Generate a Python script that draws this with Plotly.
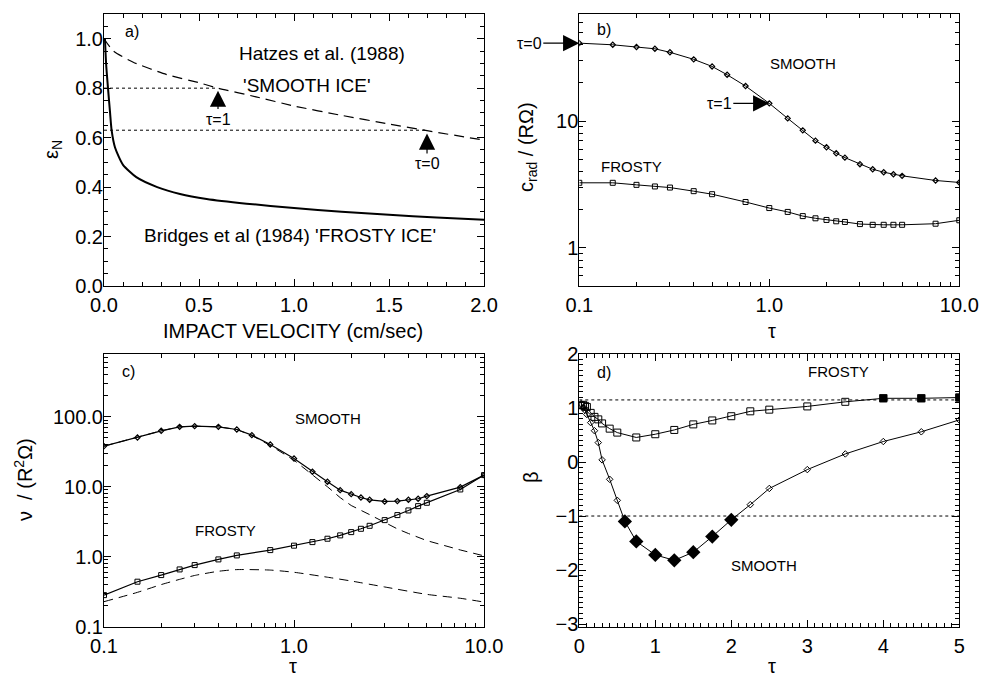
import numpy as np
import plotly.graph_objects as go

# ---------------- data ----------------
# panel a: coefficient of restitution vs impact velocity
a_frosty_v = [0.005, 0.011, 0.021, 0.032, 0.04, 0.058, 0.1, 0.17, 0.28, 0.4, 0.54, 0.75, 1.0, 1.25, 1.5, 1.75, 2.0]
a_frosty_e = [1.0, 0.9, 0.8, 0.70, 0.63, 0.56, 0.49, 0.44, 0.40, 0.372, 0.352, 0.333, 0.315, 0.30, 0.288, 0.277, 0.268]
a_smooth_v = [0.0, 0.05, 0.154, 0.33, 0.5, 0.6, 0.8, 1.0, 1.25, 1.5, 1.7, 2.0]
a_smooth_e = [1.0, 0.95, 0.905, 0.855, 0.822, 0.80, 0.765, 0.728, 0.69, 0.655, 0.628, 0.59]
a_dot_levels = [0.8, 0.63]
a_dot_ends = [0.6, 1.7]

# panels b, c: optical depth grid
tau_smooth = [0.1, 0.15, 0.2, 0.25, 0.3, 0.4, 0.5, 0.6, 0.75, 1.0, 1.25, 1.5, 1.75, 2.0, 2.25, 2.5, 3.0, 3.5, 4.0, 4.5, 5.0, 7.5, 10]
tau_frosty = [0.1, 0.15, 0.2, 0.25, 0.3, 0.4, 0.5, 0.75, 1.0, 1.25, 1.5, 1.75, 2.0, 2.25, 2.5, 3.0, 3.5, 4.0, 4.5, 5.0, 7.5, 10]

b_smooth = [41.2, 40.0, 38.4, 37.2, 34.9, 30.7, 27.0, 23.2, 18.9, 13.8, 10.5, 8.45, 7.01, 6.21, 5.57, 5.15, 4.57, 4.17, 3.95, 3.81, 3.70, 3.40, 3.28]
b_frosty = [3.26, 3.26, 3.14, 3.05, 2.99, 2.80, 2.65, 2.30, 2.06, 1.92, 1.78, 1.71, 1.66, 1.62, 1.60, 1.54, 1.52, 1.52, 1.52, 1.52, 1.55, 1.65]

c_smooth = [38.1, 50.7, 63.1, 71.9, 73.6, 71.9, 65.9, 54.7, 40.3, 25.4, 16.4, 11.8, 8.96, 7.85, 7.04, 6.52, 6.17, 6.24, 6.52, 6.74, 7.36, 9.89, 14.7]
c_frosty = [0.283, 0.44, 0.547, 0.659, 0.76, 0.916, 1.045, 1.245, 1.44, 1.62, 1.81, 2.02, 2.25, 2.51, 2.77, 3.34, 3.94, 4.59, 5.29, 5.91, 9.16, 14.7]
c_smooth_dash_tau = [0.1, 0.15, 0.2, 0.25, 0.3, 0.4, 0.5, 0.6, 0.75, 1.0, 1.25, 1.5, 1.75, 2.0, 2.5, 3.0, 3.5, 4.0, 5.0, 7.5, 10]
c_smooth_dash = [38.1, 50.7, 63.1, 71.9, 73.6, 71.9, 65.9, 54.0, 39.0, 24.0, 15.0, 10.0, 7.0, 5.4, 4.0, 3.1, 2.5, 2.15, 1.7, 1.25, 1.03]
c_frosty_dash_tau = [0.1, 0.15, 0.2, 0.25, 0.3, 0.4, 0.5, 0.75, 1.0, 1.5, 2.0, 3.0, 5.0, 7.5, 10]
c_frosty_dash = [0.228, 0.31, 0.40, 0.475, 0.54, 0.62, 0.655, 0.645, 0.60, 0.51, 0.45, 0.37, 0.29, 0.255, 0.225]

# panel d: beta vs tau
d_tau_smooth = [0.025, 0.05, 0.075, 0.1, 0.15, 0.2, 0.25, 0.3, 0.4, 0.5, 0.6, 0.75, 1.0, 1.25, 1.5, 1.75, 2.0, 2.25, 2.5, 3.0, 3.5, 4.0, 4.5, 5.0]
d_smooth = [1.08, 1.0, 0.96, 0.88, 0.73, 0.58, 0.36, 0.04, -0.32, -0.71, -1.10, -1.47, -1.72, -1.82, -1.67, -1.38, -1.07, -0.79, -0.49, -0.14, 0.15, 0.38, 0.56, 0.78]
d_tau_frosty = [0.025, 0.05, 0.075, 0.1, 0.15, 0.2, 0.25, 0.3, 0.4, 0.5, 0.75, 1.0, 1.25, 1.5, 1.75, 2.0, 2.25, 2.5, 3.0, 3.5, 4.0, 4.5, 5.0]
d_frosty = [1.05, 1.06, 1.04, 1.02, 0.91, 0.836, 0.79, 0.715, 0.618, 0.545, 0.455, 0.515, 0.594, 0.697, 0.77, 0.848, 0.939, 0.97, 1.03, 1.115, 1.18, 1.18, 1.194]
d_smooth_filled_tau = [0.6, 0.75, 1.0, 1.25, 1.5, 1.75, 2.0]
d_frosty_filled_tau = [4.0, 4.5, 5.0]
d_dot_levels = [1.15, -1.0]

# ---------------- figure ----------------
W, H = 983, 679
FONT = "Liberation Sans, Arial, Helvetica, sans-serif"
fig = go.Figure()
fig.update_layout(template="none")

def px2paper(x, y):
    return x / W, 1 - y / H

def line(color="black", width=1, dash="solid"):
    return dict(color=color, width=width, dash=dash)

# panel a
for lev, end in zip(a_dot_levels, a_dot_ends):
    fig.add_trace(go.Scatter(x=[0, end], y=[lev, lev], mode="lines", line=line(width=1, dash="dot"),
                             xaxis="x", yaxis="y", showlegend=False, hoverinfo="skip"))
fig.add_trace(go.Scatter(x=a_smooth_v, y=a_smooth_e, mode="lines", line=dict(color="black", width=1.2, dash="10px,6px", shape="spline", smoothing=0.6),
                         xaxis="x", yaxis="y", showlegend=False))
fig.add_trace(go.Scatter(x=a_frosty_v, y=a_frosty_e, mode="lines", line=dict(color="black", width=2, shape="spline", smoothing=0.6),
                         xaxis="x", yaxis="y", showlegend=False))

# panel b
fig.add_trace(go.Scatter(x=tau_smooth, y=b_smooth, mode="lines+markers", line=line(width=1),
                         marker=dict(symbol="diamond-open", size=4, color="black", line=dict(width=1.2, color="black")),
                         xaxis="x2", yaxis="y2", showlegend=False))
fig.add_trace(go.Scatter(x=tau_frosty, y=b_frosty, mode="lines+markers", line=line(width=1),
                         marker=dict(symbol="square-open", size=5, color="black", line=dict(width=1, color="black")),
                         xaxis="x2", yaxis="y2", showlegend=False))

# panel c
fig.add_trace(go.Scatter(x=c_smooth_dash_tau, y=c_smooth_dash, mode="lines", line=line(width=1, dash="9px,6px"),
                         xaxis="x3", yaxis="y3", showlegend=False))
fig.add_trace(go.Scatter(x=c_frosty_dash_tau, y=c_frosty_dash, mode="lines", line=dict(color="black", width=1, dash="9px,6px", shape="spline", smoothing=0.6),
                         xaxis="x3", yaxis="y3", showlegend=False))
fig.add_trace(go.Scatter(x=tau_smooth, y=c_smooth, mode="lines+markers", line=line(width=1.2),
                         marker=dict(symbol="diamond-open", size=4, color="black", line=dict(width=1.2, color="black")),
                         xaxis="x3", yaxis="y3", showlegend=False))
fig.add_trace(go.Scatter(x=tau_frosty, y=c_frosty, mode="lines+markers", line=line(width=1.2),
                         marker=dict(symbol="square-open", size=5, color="black", line=dict(width=1, color="black")),
                         xaxis="x3", yaxis="y3", showlegend=False))

# panel d
for lev in d_dot_levels:
    fig.add_trace(go.Scatter(x=[0, 5], y=[lev, lev], mode="lines", line=line(width=1, dash="dot"),
                             xaxis="x4", yaxis="y4", showlegend=False, hoverinfo="skip"))
fig.add_trace(go.Scatter(x=d_tau_smooth, y=d_smooth, mode="lines+markers", line=line(width=1),
                         marker=dict(symbol="diamond-open", size=5, color="black", line=dict(width=1, color="black")),
                         xaxis="x4", yaxis="y4", showlegend=False))
fig.add_trace(go.Scatter(x=d_tau_frosty, y=d_frosty, mode="lines+markers", line=line(width=1),
                         marker=dict(symbol="square-open", size=7, color="black", line=dict(width=1, color="black")),
                         xaxis="x4", yaxis="y4", showlegend=False))
sm_lookup = dict(zip(d_tau_smooth, d_smooth))
fr_lookup = dict(zip(d_tau_frosty, d_frosty))
fig.add_trace(go.Scatter(x=d_smooth_filled_tau, y=[sm_lookup[t] for t in d_smooth_filled_tau], mode="markers",
                         marker=dict(symbol="diamond", size=11, color="black"),
                         xaxis="x4", yaxis="y4", showlegend=False))
fig.add_trace(go.Scatter(x=d_frosty_filled_tau, y=[fr_lookup[t] for t in d_frosty_filled_tau], mode="markers",
                         marker=dict(symbol="square", size=8, color="black"),
                         xaxis="x4", yaxis="y4", showlegend=False))

# ---------------- axes ----------------
def logminor(lo_dec, hi_dec):
    vals = []
    for d in range(lo_dec, hi_dec + 1):
        for m in range(2, 10):
            vals.append(m * 10.0 ** d)
    return vals

tickfont = dict(family=FONT, size=20, color="black")
common = dict(showline=True, linecolor="black", linewidth=1, mirror="ticks", ticks="inside", ticklen=7,
              tickcolor="black", tickwidth=1, showgrid=False, zeroline=False, tickfont=tickfont, automargin=False)

xa = [0.1058, 0.4924]
xb = [0.5893, 0.9759]
yt = [0.5788, 0.9794]
yb = [0.0770, 0.4786]
XSO = 1
YSO = -4

fig.update_layout(
    xaxis=dict(domain=xa, anchor="y", range=[0, 2.0], tickvals=[0, 0.5, 1.0, 1.5, 2.0], tickformat=".1f",
               minor=dict(ticks="inside", ticklen=4, tickcolor="black", dtick=0.1), ticklabelstandoff=XSO, **common),
    yaxis=dict(domain=yt, anchor="x", range=[0, 1.1], tickvals=[0, 0.2, 0.4, 0.6, 0.8, 1.0], tickformat=".1f",
               minor=dict(ticks="inside", ticklen=4, tickcolor="black", dtick=0.05), ticklabelstandoff=YSO, **common),
    xaxis2=dict(domain=xb, anchor="y2", type="log", range=[-1, 1], tickvals=[0.1, 1, 10], ticktext=["0.1", "1.0", "10.0"],
                minor=dict(ticks="inside", ticklen=4, tickcolor="black", tickvals=logminor(-1, 0)), ticklabelstandoff=XSO, **common),
    yaxis2=dict(domain=yt, anchor="x2", type="log", range=[np.log10(0.5), np.log10(70)], tickvals=[1, 10], ticktext=["1", "10"],
                minor=dict(ticks="inside", ticklen=4, tickcolor="black", tickvals=logminor(-1, 1)), ticklabelstandoff=YSO, **common),
    xaxis3=dict(domain=xa, anchor="y3", type="log", range=[-1, 1], tickvals=[0.1, 1, 10], ticktext=["0.1", "1.0", "10.0"],
                minor=dict(ticks="inside", ticklen=4, tickcolor="black", tickvals=logminor(-1, 0)), ticklabelstandoff=XSO, **common),
    yaxis3=dict(domain=yb, anchor="x3", type="log", range=[-1, np.log10(790)], tickvals=[0.1, 1, 10, 100],
                ticktext=["0.1", "1.0", "10.0", "100.0"],
                minor=dict(ticks="inside", ticklen=4, tickcolor="black", tickvals=logminor(-1, 2)), ticklabelstandoff=YSO, **common),
    xaxis4=dict(domain=xb, anchor="y4", range=[0, 5], tickvals=[0, 1, 2, 3, 4, 5],
                minor=dict(ticks="inside", ticklen=4, tickcolor="black", dtick=0.1), ticklabelstandoff=XSO, **common),
    yaxis4=dict(domain=yb, anchor="x4", range=[-3.05, 2.0], tickvals=[-3, -2, -1, 0, 1, 2],
                minor=dict(ticks="inside", ticklen=4, tickcolor="black", dtick=0.1), ticklabelstandoff=YSO, **common),
)

# ---------------- annotations ----------------
ann = []

def txt(x, y, s, size, xref, yref, xanchor="center"):
    ann.append(dict(x=x, y=y, xref=xref, yref=yref, text=s, showarrow=False, xanchor=xanchor, yanchor="middle",
                    font=dict(family=FONT, size=size, color="black")))

def ptxt(px, py, s, size, angle=0, yanchor="middle"):
    x, y = px2paper(px, py)
    ann.append(dict(x=x, y=y, xref="paper", yref="paper", text=s, showarrow=False, xanchor="center", yanchor=yanchor,
                    textangle=angle, font=dict(family=FONT, size=size, color="black")))

ARW = dict(showarrow=True, arrowhead=2, arrowsize=2.7, arrowwidth=1.2, arrowcolor="black")

# axis titles
ptxt(293, 331, "IMPACT VELOCITY (cm/sec)", 20)
ptxt(52, 150, "ε<sub>N</sub>", 20, -90)
ptxt(771.7, 331, "τ", 20)
ptxt(527, 147, "c<sub>rad</sub> / (RΩ)", 20, -90)
ptxt(293, 679, "τ", 20, yanchor="bottom")
ptxt(23, 480, "ν  / (R<sup>2</sup>Ω)", 20, -90)
ptxt(771.7, 679, "τ", 20, yanchor="bottom")
ptxt(531, 477, "β", 20, -90)

# panel a text
txt(0.1, 1.03, "a)", 16, "x", "y", "left")
txt(1.145, 0.942, "Hatzes et al. (1988)", 19, "x", "y")
txt(1.066, 0.811, "'SMOOTH ICE'", 19, "x", "y")
txt(0.978, 0.203, "Bridges et al (1984) 'FROSTY ICE'", 19, "x", "y")
ann.append(dict(x=0.6, y=0.79, xref="x", yref="y", ax=0.6, ay=0.675, axref="x", ayref="y", text="τ=1",
                font=dict(family=FONT, size=16, color="black"), **ARW))
ann.append(dict(x=1.7, y=0.617, xref="x", yref="y", ax=1.7, ay=0.495, axref="x", ayref="y", text="τ=0",
                font=dict(family=FONT, size=16, color="black"), **ARW))

# panel b text
txt(-0.917, 1.723, "b)", 16, "x2", "y2", "left")
txt(0.176, 1.458, "SMOOTH", 15, "x2", "y2")
txt(-0.724, 0.641, "FROSTY", 15, "x2", "y2")
ann.append(dict(x=-1, y=np.log10(b_smooth[0]), xref="x2", yref="y2", ax=-50, ay=0, text="τ=0",
                font=dict(family=FONT, size=16, color="black"), **ARW))
ann.append(dict(x=0, y=np.log10(b_smooth[tau_smooth.index(1.0)]), xref="x2", yref="y2", ax=-50, ay=0, text="τ=1",
                font=dict(family=FONT, size=16, color="black"), **ARW))

# panel c text
txt(-0.916, 2.643, "c)", 16, "x3", "y3", "left")
txt(0.177, 1.977, "SMOOTH", 15, "x3", "y3")
txt(-0.358, 0.371, "FROSTY", 15, "x3", "y3")

# panel d text
txt(0.207, 1.665, "d)", 16, "x4", "y4", "left")
txt(3.41, 1.678, "FROSTY", 15, "x4", "y4")
txt(2.434, -1.91, "SMOOTH", 15, "x4", "y4")

fig.update_layout(annotations=ann, width=W, height=H, margin=dict(l=0, r=0, t=0, b=0, pad=0, autoexpand=False),
                  paper_bgcolor="white", plot_bgcolor="white", font=dict(family=FONT, color="black"),
                  showlegend=False)

fig.write_html("out.html")
